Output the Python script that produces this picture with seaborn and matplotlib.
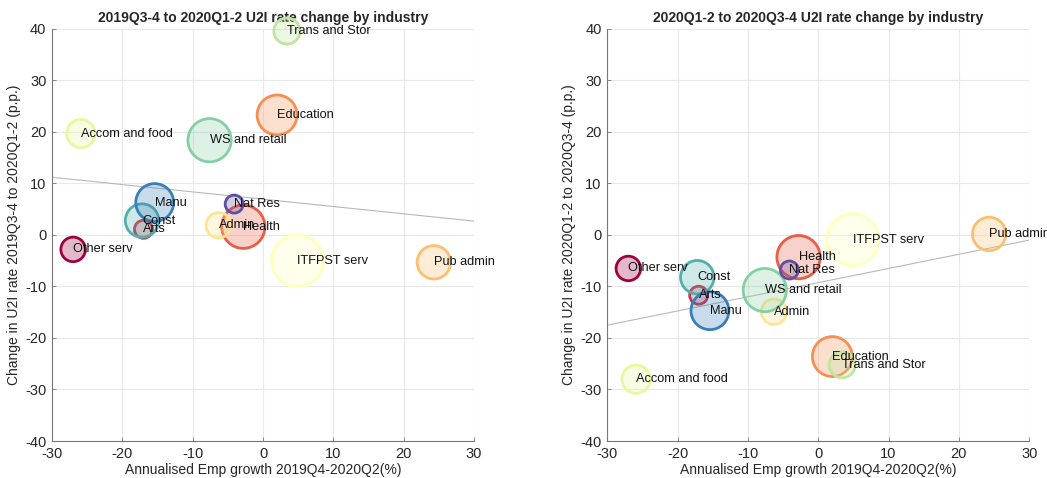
import numpy as np
import pandas as pd
import seaborn as sns
import matplotlib.pyplot as plt

# Industry data
industries = ['Other serv', 'Arts', 'Health', 'Education', 'Pub admin', 'Admin',
              'ITFPST serv', 'Accom and food', 'Trans and Stor', 'WS and retail',
              'Const', 'Manu', 'Nat Res']
emp_growth = [-27.0, -17.0, -2.8, 2.0, 24.3, -6.3, 4.9, -25.9, 3.4, -7.6, -17.2, -15.4, -4.1]
u2i_change_1 = [-2.8, 1.1, 1.6, 23.3, -5.3, 1.9, -5.0, 19.7, 39.6, 18.4, 2.8, 6.3, 6.0]
u2i_change_2 = [-6.5, -11.7, -4.3, -23.6, 0.2, -14.9, -0.9, -28.0, -25.2, -10.7, -8.2, -14.7, -6.8]
emp_size = [1.5, 0.8, 4.7, 4.0, 2.8, 1.6, 6.8, 2.0, 1.7, 4.7, 2.8, 3.6, 0.8]

# fitted trend lines (slope, intercept)
trend_1 = (-0.142, 6.95)
trend_2 = (0.275, -9.25)

titles = ['2019Q3-4 to 2020Q1-2 U2I rate change by industry',
          '2020Q1-2 to 2020Q3-4 U2I rate change by industry']
ylabels = ['Change in U2I rate 2019Q3-4 to 2020Q1-2 (p.p.)',
           'Change in U2I rate 2020Q1-2 to 2020Q3-4 (p.p.)']
xlabel = 'Annualised Emp growth 2019Q4-2020Q2(%)'

df = pd.DataFrame({'industry': industries, 'emp_growth': emp_growth,
                   'u2i_1': u2i_change_1, 'u2i_2': u2i_change_2, 'size': emp_size})

sns.set_style('ticks')
plt.rcParams['font.family'] = ['Liberation Sans', 'DejaVu Sans']
plt.rcParams['font.size'] = 10
plt.rcParams['axes.unicode_minus'] = False

cmap = sns.color_palette('Spectral', as_cmap=True)
palette = dict(zip(industries, [cmap(v) for v in np.linspace(0, 1, len(industries))]))

fig = plt.figure(figsize=(10.47, 4.78), dpi=100)
axes = [fig.add_axes([0.0497, 0.0774, 0.403, 0.862]),
        fig.add_axes([0.580, 0.0774, 0.403, 0.862])]

r_min, r_max = 9, 26  # bubble radii in px
s_min, s_max = (1.44 * r_min) ** 2, (1.44 * r_max) ** 2

for ax, ycol, trend, title, ylabel in zip(axes, ['u2i_1', 'u2i_2'], [trend_1, trend_2], titles, ylabels):
    ax.grid(True, color='#e8e8e8', linewidth=0.8, zorder=0)
    ax.set_axisbelow(True)

    xs = np.array([-30, 30])
    ax.plot(xs, trend[1] + trend[0] * xs, color='#b8b8b8', linewidth=0.8, zorder=1)

    sns.scatterplot(data=df, x='emp_growth', y=ycol, hue='industry', palette=palette,
                    size='size', sizes=(s_min, s_max), legend=False, ax=ax,
                    linewidth=2.0, zorder=4, clip_on=False)
    coll = ax.collections[-1]
    fc = coll.get_facecolors().copy()
    coll.set_edgecolors(fc.copy())
    fc[:, 3] = 0.28
    coll.set_facecolors(fc)

    for _, row in df.iterrows():
        ax.text(row['emp_growth'], row[ycol], row['industry'], ha='left', va='center',
                fontsize=9.2, color='#111111', zorder=5, clip_on=False)

    ax.set_xlim(-30, 30)
    ax.set_ylim(-40, 40)
    ax.set_xticks(range(-30, 31, 10))
    ax.set_yticks(range(-40, 41, 10))
    ax.set_title(title, fontsize=10, fontweight='bold', pad=5)
    ax.set_xlabel(xlabel, fontsize=10, color='#262626', labelpad=2)
    ax.set_ylabel(ylabel, fontsize=10, color='#262626', labelpad=3)
    sns.despine(ax=ax)
    for side in ['left', 'bottom']:
        ax.spines[side].set_color('#777777')
        ax.spines[side].set_linewidth(0.8)
    ax.tick_params(direction='in', length=3, width=0.6, color='#777777',
                   labelcolor='#262626', labelsize=10.5, pad=4)

fig.savefig('out.png', dpi=100)
